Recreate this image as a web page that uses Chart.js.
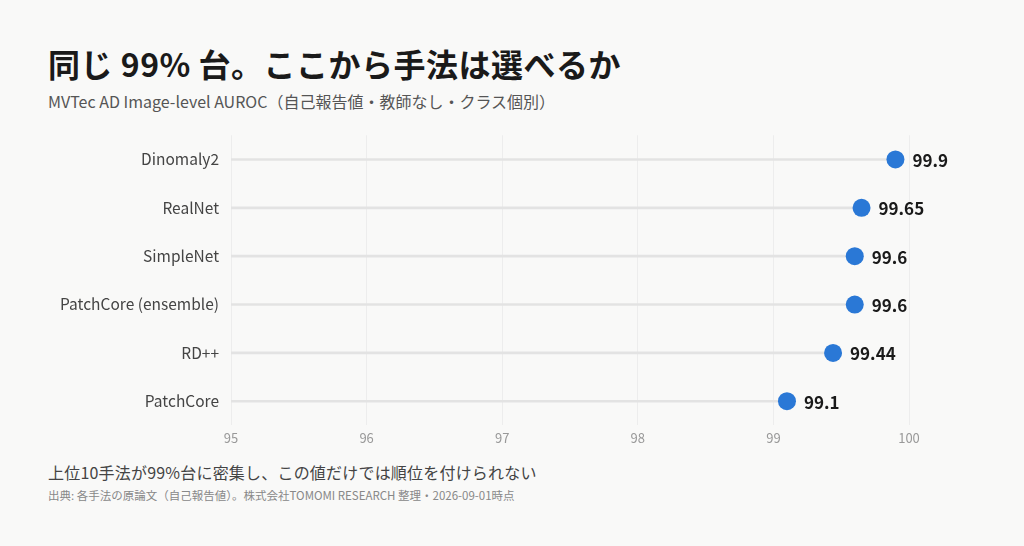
<!DOCTYPE html>
<html>
<head>
<meta charset="utf-8">
<script src="https://cdn.jsdelivr.net/npm/chart.js@4"></script>
<style>
  html, body { margin: 0; padding: 0; background: #f9f9f8; }
  body { width: 1024px; height: 546px; position: relative; overflow: hidden;
         font-family: "Noto Sans CJK JP", "Noto Sans", sans-serif; }
  #title { position: absolute; left: 48px; top: 40px; font-size: 32px; font-weight: 700; color: #1a1a1a; letter-spacing: 0.5px; }
  #sub { position: absolute; left: 48px; top: 89px; font-size: 16px; color: #555; }
  #note { position: absolute; left: 48px; top: 460px; font-size: 16px; color: #444; letter-spacing: 0.2px; }
  #src { position: absolute; left: 48px; top: 487px; font-size: 11.5px; color: #888; }
  #wrap { position: absolute; left: 0; top: 114px; width: 1024px; height: 337px; }
</style>
</head>
<body>
<div id="title">同じ 99% 台。ここから手法は選べるか</div>
<div id="sub">MVTec AD Image-level AUROC（自己報告値・教師なし・クラス個別）</div>
<div id="wrap"><canvas id="lollipop"></canvas></div>
<div id="note">上位10手法が99%台に密集し、この値だけでは順位を付けられない</div>
<div id="src">出典: 各手法の原論文（自己報告値）。株式会社TOMOMI RESEARCH 整理・2026-09-01時点</div>
<script>
// 手法名と AUROC 値
const methods = ['Dinomaly2', 'RealNet', 'SimpleNet', 'PatchCore (ensemble)', 'RD++', 'PatchCore'];
const auroc = [99.9, 99.65, 99.6, 99.6, 99.44, 99.1];
const xTicks = [95, 96, 97, 98, 99, 100];

// 値ラベルを点の右に描く
const valueLabels = {
  id: 'valueLabels',
  afterDatasetsDraw(chart) {
    const ctx = chart.ctx;
    const meta = chart.getDatasetMeta(1);
    ctx.save();
    ctx.font = 'bold 17px "Noto Sans CJK JP", "Noto Sans", sans-serif';
    ctx.fillStyle = '#1a1a1a';
    ctx.textBaseline = 'middle';
    ctx.textAlign = 'left';
    meta.data.forEach((pt, i) => {
      ctx.fillText(String(auroc[i]), pt.x + 17, pt.y + 1);
    });
    ctx.restore();
  }
};

var ctx = document.getElementById('lollipop');
var chart = new Chart(ctx, {
  data: {
    labels: methods,
    datasets: [{
      type: 'bar',
      data: auroc,
      backgroundColor: '#e3e3e3',
      barThickness: 2,
      order: 2
    }, {
      type: 'line',
      data: auroc,
      showLine: false,
      pointRadius: 9,
      pointHoverRadius: 9,
      pointBackgroundColor: '#2a78d6',
      pointBorderWidth: 0,
      order: 1
    }]
  },
  options: {
    indexAxis: 'y',
    responsive: true,
    maintainAspectRatio: false,
    animation: false,
    layout: { padding: { top: 8, right: 115, bottom: 0, left: 0 } },
    plugins: { legend: { display: false }, tooltip: { enabled: false } },
    scales: {
      x: {
        type: 'linear',
        min: 95,
        max: 100,
        afterBuildTicks(scale) { scale.ticks = xTicks.map(v => ({ value: v })); },
        grid: { color: '#ededed', lineWidth: 1, drawTicks: false },
        border: { display: false },
        ticks: { color: '#999', padding: 5,
                 font: { size: 13, family: '"Noto Sans CJK JP", "Noto Sans", sans-serif' } }
      },
      y: {
        afterFit(scale) { scale.width = 231; },
        grid: { display: false, drawTicks: false },
        border: { display: false },
        ticks: { color: '#444', padding: 12,
                 font: { size: 15.5, family: '"Noto Sans CJK JP", "Noto Sans", sans-serif' } }
      }
    }
  },
  plugins: [valueLabels]
});
</script>
</body>
</html>
